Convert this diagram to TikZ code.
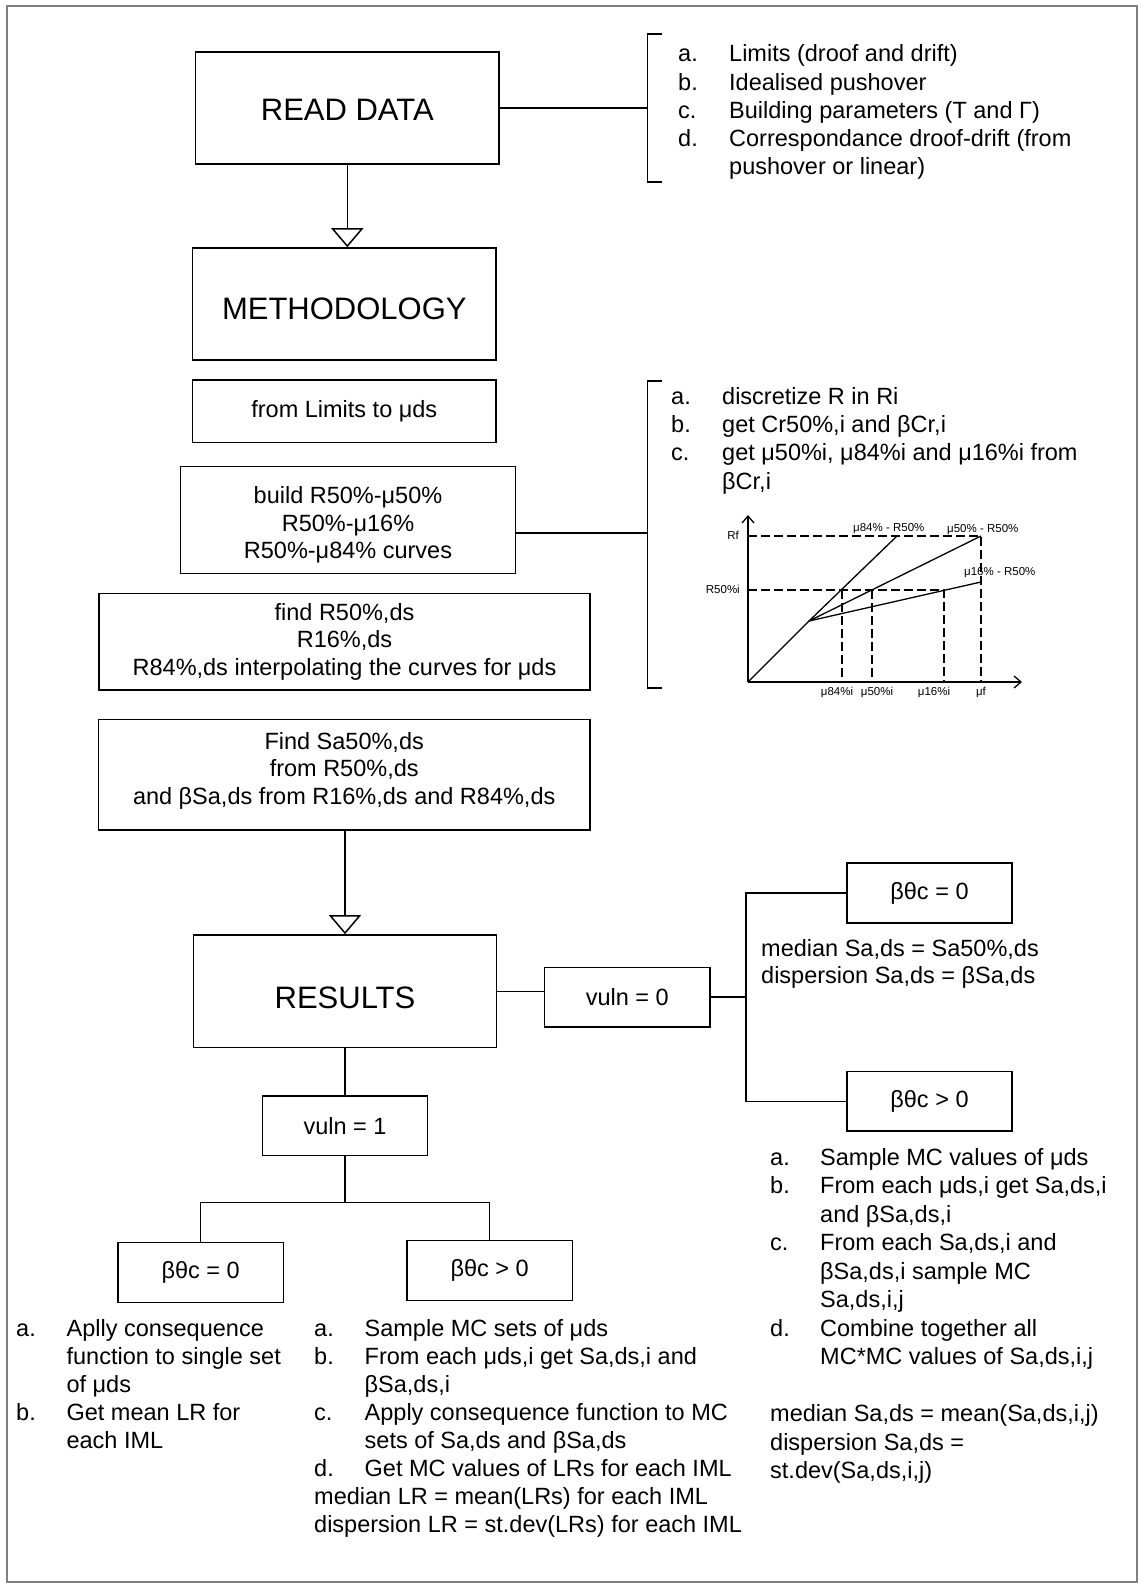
\documentclass[tikz,border=0pt]{standalone}
\usepackage{fontspec}
\setmainfont{Liberation Sans}
\usetikzlibrary{arrows.meta}
\definecolor{framegray}{RGB}{128,128,128}
\newcommand{\txt}[1][28]{\fontsize{23.5}{#1}\selectfont}
\newcommand{\headfont}{\fontsize{31}{36}\selectfont}
\newcommand{\chartfont}{\fontsize{11.5}{13}\selectfont}
\newcommand{\padtop}[1]{\rule{0pt}{#1}}
\newcommand{\padbot}[1]{\rule[-#1]{0pt}{0pt}}
\tikzset{
	procbox/.style={draw, line width=1.5pt, inner sep=0pt, align=center, font={\txt[27.5]}},
	headbox/.style={procbox, minimum width=303.3pt, minimum height=112pt, font=\headfont},
	smallbox/.style={procbox, minimum width=165.4pt, minimum height=59.6pt},
	lstnode/.style={anchor=base west, inner sep=0pt},
	flow/.style={line width=1.5pt},
	openarrow/.style={flow, -{Triangle[open, width=32pt, length=19pt]}},
	curve/.style={line width=1.3pt},
	axis/.style={line width=1.3pt, -{Straight Barb[length=7pt, width=12pt]}},
	dashline/.style={line width=1.3pt, dash pattern=on 9pt off 4pt},
	chartlbl/.style={inner sep=0pt, font=\chartfont}
}
\begin{document}
\begin{tikzpicture}[x=1pt, y=-1pt]
\useasboundingbox (0,0) rectangle (1144,1594);
\draw[line width=2pt, framegray] (7,6) rectangle (1136.5,1582);

\node[headbox] (rd) at (347.3,108) {\padtop{26pt}READ DATA};
\node[headbox] (meth) at (344.3,304) {\padtop{32pt}METHODOLOGY};
\node[procbox, minimum width=303.3pt, minimum height=62.7pt] (lim) at (344.3,411.3) {from Limits to μds};
\node[procbox, minimum width=334.6pt, minimum height=106.6pt] (bld) at (348,520) {\padtop{27.5pt}build R50\%-μ50\%\\R50\%-μ16\%\\R50\%-μ84\% curves};
\node[procbox, minimum width=491pt, minimum height=96.7pt] (fnd) at (344.5,641.7) {find R50\%,ds\\R16\%,ds\\R84\%,ds interpolating the curves for μds};
\node[procbox, minimum width=491.7pt, minimum height=110.7pt] (fsa) at (344.2,774.7) {Find Sa50\%,ds\\ from R50\%,ds\\and βSa,ds from R16\%,ds and R84\%,ds\padbot{13pt}};
\node[headbox, minimum height=112.7pt] (res) at (345,991.3) {\padtop{34pt}RESULTS};
\node[smallbox] (vz) at (627.3,997.2) {vuln = 0};
\node[smallbox] (bz0) at (929.5,893) {βθc = 0};
\node[smallbox] (bp0) at (929.5,1101.4) {βθc > 0};
\node[smallbox] (vo) at (345,1125.7) {vuln = 1};
\node[smallbox] (bz1) at (200.7,1272.5) {βθc = 0};
\node[smallbox] (bp1) at (489.6,1270.5) {βθc > 0};

\draw[openarrow] (rd.south) -- (rd.south |- meth.north);
\draw[openarrow] (res.north |- fsa.south) -- (res.north);

\coordinate (brA) at (647.5,108);
\coordinate (brB) at (647.5,533);
\draw[flow] (rd.east) -- (brA);
\draw[flow] (662,34) -- (647.5,34) -- (647.5,182) -- (662,182);
\draw[flow] (bld.east |- brB) -- (brB);
\draw[flow] (662,381) -- (647.5,381) -- (647.5,688) -- (662,688);

\coordinate (jr) at (746,997.2);
\coordinate (jl) at (345,1202.3);
\draw[flow] (res.east) -- (res.east -| vz.west);
\draw[flow] (vz.east) -- (jr);
\draw[flow] (bz0.west) -| (jr) |- (bp0.west);
\draw[flow] (res.south) -- (vo.north);
\draw[flow] (vo.south) -- (jl);
\draw[flow] (bz1.north) |- (jl) -| (bp1.north);

\node[lstnode, font={\txt[28.2]}] (lstA) at (678,62) {\begin{tabular}[t]{@{}p{51pt}@{}l@{}}
a. & Limits (droof and drift)\\
b. & Idealised pushover\\
c. & Building parameters (T and Γ)\\
d. & Correspondance droof-drift (from\\
   & pushover or linear)
\end{tabular}};

\node[lstnode, font={\txt[28.4]}] (lstB) at (671,404) {\begin{tabular}[t]{@{}p{51pt}@{}l@{}}
a. & discretize R in Ri\\
b. & get Cr50\%,i and βCr,i\\
c. & get μ50\%i, μ84\%i and μ16\%i from\\
   & βCr,i
\end{tabular}};

% chart
\coordinate (o) at (748,682);
\coordinate (yl) at (809,621);
\coordinate (p84) at (897,536);
\coordinate (p50) at (981,536);
\coordinate (p16) at (981,582);
\coordinate (q16) at (944,590);
\draw[axis] (o) -- (748,515);
\draw[axis] (o) -- (1022,682);
\draw[dashline] (o |- p50) -- (p50) -- (o -| p50);
\draw[dashline] (o |- q16) -- (q16) -- (o -| q16);
\foreach \x in {842,872}
	\draw[dashline] (\x,590) -- (o -| \x,590);
\draw[curve] (o) -- (yl) -- (p84);
\draw[curve] (yl) -- (p50);
\draw[curve] (yl) -- (p16);

\node[chartlbl, anchor=base east] (lrf) at (739,539) {Rf};
\node[chartlbl, anchor=base east] (lr50) at (740,593) {R50\%i};
\node[chartlbl, anchor=base west] (l84) at (853,531) {μ84\% - R50\%};
\node[chartlbl, anchor=base west] (l50) at (947,532) {μ50\% - R50\%};
\node[chartlbl, anchor=base west] (l16) at (964,575) {μ16\% - R50\%};
\node[chartlbl, anchor=base] (m84) at (837,695) {μ84\%i};
\node[chartlbl, anchor=base] (m50) at (877,695) {μ50\%i};
\node[chartlbl, anchor=base] (m16) at (934,695) {μ16\%i};
\node[chartlbl, anchor=base] (mf) at (981,695) {μf};

\node[lstnode, font={\txt[27.5]}] (med) at (761,956) {\begin{tabular}[t]{@{}l@{}}
median Sa,ds = Sa50\%,ds\\
dispersion Sa,ds = βSa,ds
\end{tabular}};

\node[lstnode, font={\txt[28.5]}] (lstC) at (770,1165) {\begin{tabular}[t]{@{}p{50pt}@{}l@{}}
a. & Sample MC values of μds\\
b. & From each μds,i get Sa,ds,i\\
   & and βSa,ds,i\\
c. & From each Sa,ds,i and\\
   & βSa,ds,i sample MC\\
   & Sa,ds,i,j\\
d. & Combine together all\\
   & MC*MC values of Sa,ds,i,j\\
   & \\
\multicolumn{2}{@{}l@{}}{median Sa,ds = mean(Sa,ds,i,j)}\\
\multicolumn{2}{@{}l@{}}{dispersion Sa,ds =}\\
\multicolumn{2}{@{}l@{}}{st.dev(Sa,ds,i,j)}
\end{tabular}};

\node[lstnode, font={\txt[28.2]}] (lstD) at (16,1336) {\begin{tabular}[t]{@{}p{50.4pt}@{}l@{}}
a. & Aplly consequence\\
   & function to single set\\
   & of μds\\
b. & Get mean LR for\\
   & each IML
\end{tabular}};

\node[lstnode, font={\txt[28.1]}] (lstE) at (314,1336) {\begin{tabular}[t]{@{}p{50.5pt}@{}l@{}}
a. & Sample MC sets of μds\\
b. & From each μds,i get Sa,ds,i and\\
   & βSa,ds,i\\
c. & Apply consequence function to MC\\
   & sets of Sa,ds and βSa,ds\\
d. & Get MC values of LRs for each IML\\
\multicolumn{2}{@{}l@{}}{median LR = mean(LRs) for each IML}\\
\multicolumn{2}{@{}l@{}}{dispersion LR = st.dev(LRs) for each IML}
\end{tabular}};
\end{tikzpicture}
\end{document}
